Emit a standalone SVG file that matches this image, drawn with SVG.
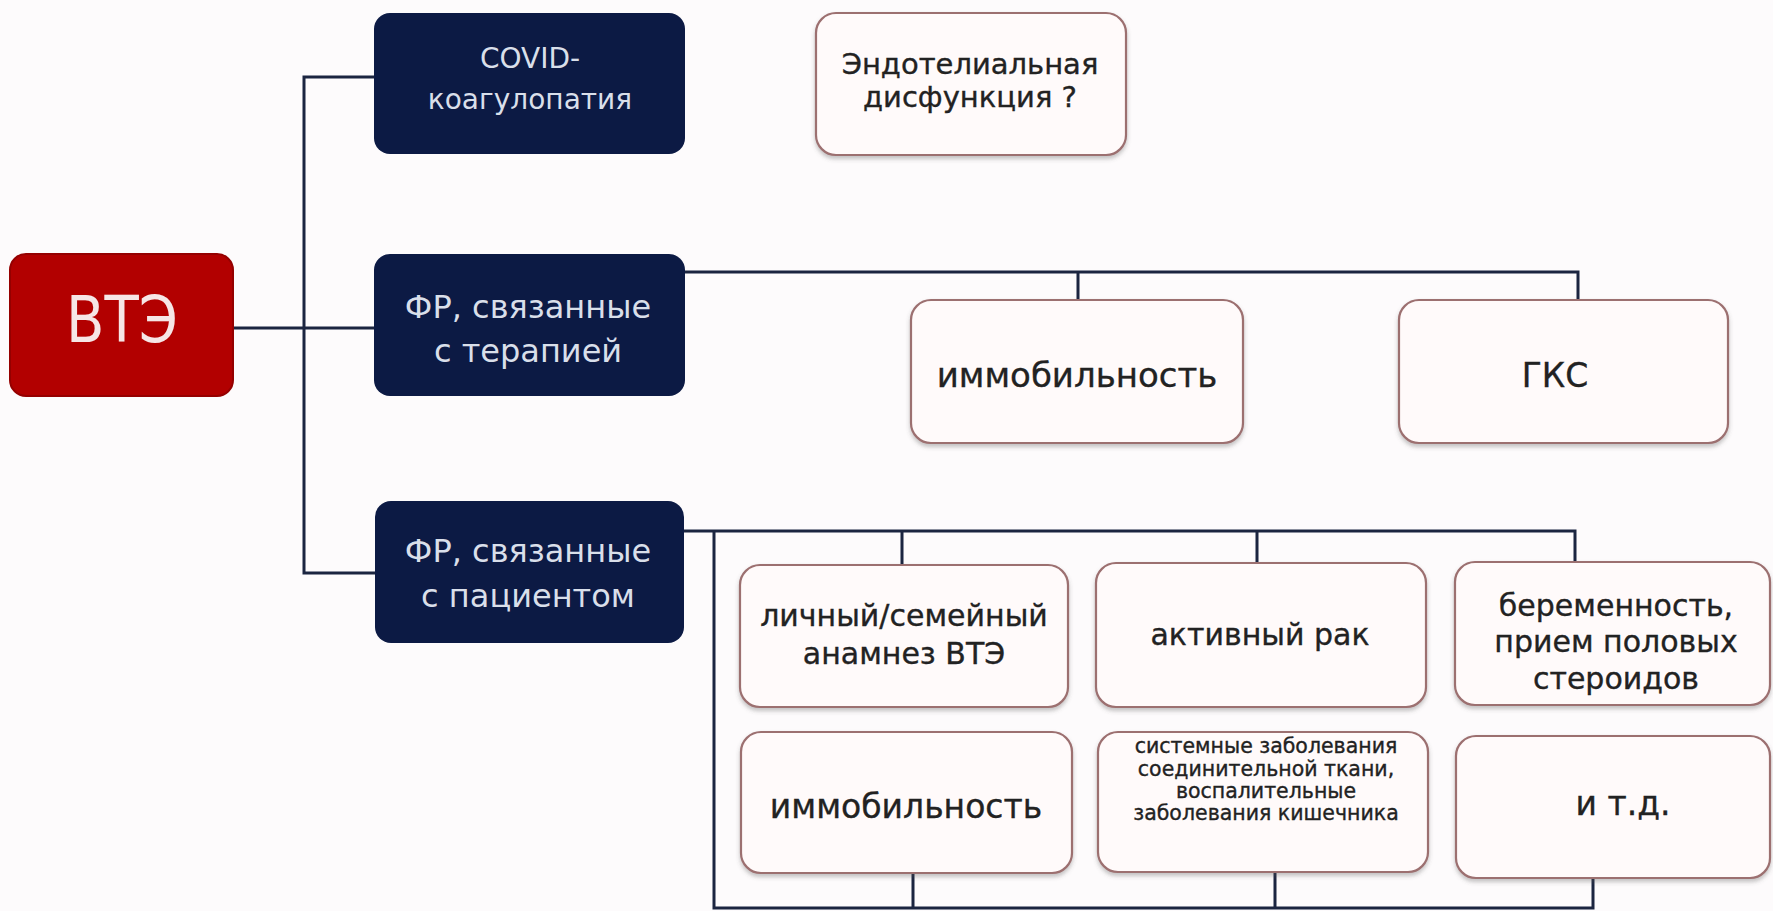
<svg xmlns="http://www.w3.org/2000/svg" width="1773" height="911" viewBox="0 0 1773 911">
<defs>
<filter id="sh" x="-5%" y="-5%" width="110%" height="120%">
<feDropShadow dx="0" dy="3" stdDeviation="2" flood-color="#555" flood-opacity="0.35"/>
</filter>
</defs>
<style>
.bg{fill:#fdfbfc}
.navy{fill:#0c1a44}
.red{fill:#b20000;stroke:#950000;stroke-width:2}
.light{fill:#fffafa;stroke:#9c6f70;stroke-width:2.2;filter:url(#sh)}
.conn{stroke:#1b2540;stroke-width:3;fill:none;stroke-linecap:square}
text{font-family:"DejaVu Sans","Liberation Sans",sans-serif;text-anchor:middle}
.tn{fill:#d9dfea;font-size:32px}
.tc{fill:#d9dfea;font-size:28px}
.tr{fill:#f6e6e6;font-size:64px}
.td{fill:#222;stroke:#222;stroke-width:0.35}
</style>
<rect class="bg" x="0" y="0" width="1773" height="911"/>
<g id="connectors">
<path class="conn" d="M304 77 V573 M304 77 H374 M233 328 H374 M304 573 H375"/>
<path class="conn" d="M685 272 H1578 M1078 272 V300 M1578 272 V300"/>
<path class="conn" d="M684 531 H1575 M902 531 V565 M1257 531 V563 M1575 531 V563 M714 531 V908 H1593 M913 875 V908 M1275 872 V908 M1593 878 V908"/>
</g>
<g id="vte">
<rect class="red" x="10" y="254" width="223" height="142" rx="16"/>
<text class="tr" x="122" y="342" textLength="112" lengthAdjust="spacingAndGlyphs">ВТЭ</text>
</g>
<g id="covid">
<rect class="navy" x="374" y="13" width="311" height="141" rx="16"/>
<text class="tc" x="530" y="68">COVID-</text>
<text class="tc" x="530" y="109">коагулопатия</text>
</g>
<g id="endo">
<rect class="light" x="816" y="13" width="310" height="142" rx="20"/>
<text class="td" font-size="29" x="970" y="74">Эндотелиальная</text>
<text class="td" font-size="29" x="970" y="107">дисфункция ?</text>
</g>
<g id="fr-therapy">
<rect class="navy" x="374" y="254" width="311" height="142" rx="16"/>
<text class="tn" x="528" y="318">ФР, связанные</text>
<text class="tn" x="528" y="362">с терапией</text>
</g>
<g id="immob1">
<rect class="light" x="911" y="300" width="332" height="143" rx="20"/>
<text class="td" font-size="34" x="1077" y="387">иммобильность</text>
</g>
<g id="gks">
<rect class="light" x="1399" y="300" width="329" height="143" rx="20"/>
<text class="td" font-size="33" x="1555" y="387">ГКС</text>
</g>
<g id="fr-patient">
<rect class="navy" x="375" y="501" width="309" height="142" rx="16"/>
<text class="tn" x="528" y="562">ФР, связанные</text>
<text class="tn" x="528" y="607">с пациентом</text>
</g>
<g id="anamnez">
<rect class="light" x="740" y="565" width="328" height="142" rx="20"/>
<text class="td" font-size="30" x="904" y="626">личный/семейный</text>
<text class="td" font-size="30" x="904" y="664">анамнез ВТЭ</text>
</g>
<g id="cancer">
<rect class="light" x="1096" y="563" width="330" height="144" rx="20"/>
<text class="td" font-size="30" x="1260" y="645">активный рак</text>
</g>
<g id="pregnancy">
<rect class="light" x="1455" y="562" width="315" height="143" rx="20"/>
<text class="td" font-size="30" x="1616" y="616">беременность,</text>
<text class="td" font-size="30" x="1616" y="652">прием половых</text>
<text class="td" font-size="30" x="1616" y="689">стероидов</text>
</g>
<g id="immob2">
<rect class="light" x="741" y="732" width="331" height="141" rx="20"/>
<text class="td" font-size="33" x="906" y="818">иммобильность</text>
</g>
<g id="systemic">
<rect class="light" x="1098" y="732" width="330" height="140" rx="20"/>
<text class="td" font-size="20.5" x="1266" y="753">системные заболевания</text>
<text class="td" font-size="20.5" x="1266" y="776">соединительной ткани,</text>
<text class="td" font-size="20.5" x="1266" y="798">воспалительные</text>
<text class="td" font-size="20.5" x="1266" y="820">заболевания кишечника</text>
</g>
<g id="etc">
<rect class="light" x="1456" y="736" width="314" height="142" rx="20"/>
<text class="td" font-size="33" x="1623" y="815">и т.д.</text>
</g>
</svg>
